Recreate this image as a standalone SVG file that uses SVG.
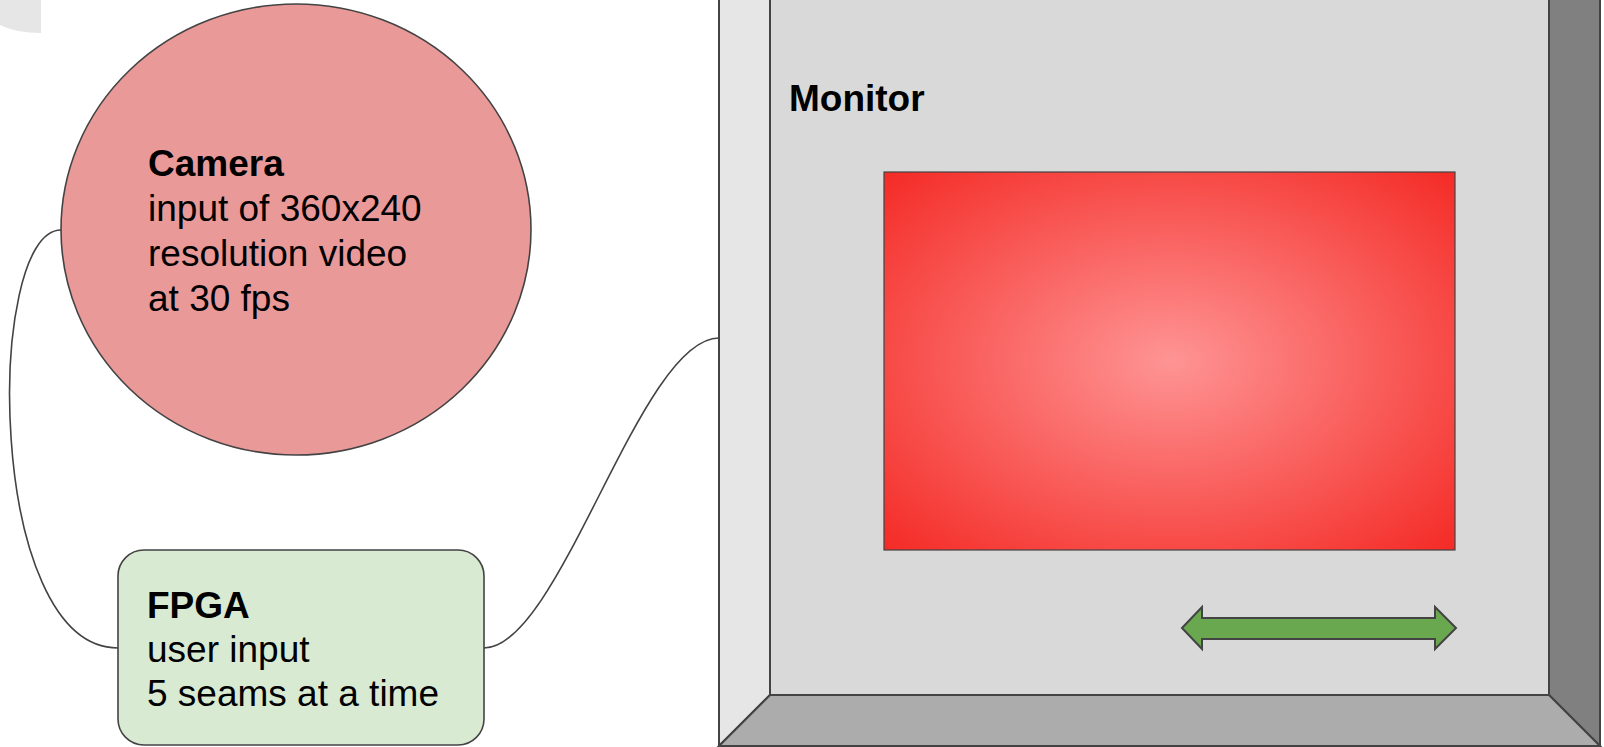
<svg xmlns="http://www.w3.org/2000/svg" width="1604" height="747" viewBox="0 0 1604 747">
  <defs>
    <radialGradient id="screenGlow" cx="0.5" cy="0.5" r="0.71">
      <stop offset="0" stop-color="#fe9494"/>
      <stop offset="1" stop-color="#f42a25"/>
    </radialGradient>
    <style>
      .edge { stroke: #434343; stroke-width: 2; stroke-linejoin: miter; }
      .wire { fill: none; stroke: #434343; stroke-width: 1.6; }
      .label { font-family: "Liberation Sans", Arial, sans-serif; font-size: 37px; fill: #000000; }
      .title { font-weight: bold; }
    </style>
  </defs>

  <rect x="0" y="0" width="1604" height="747" fill="#ffffff"/>

  <!-- partial shape at the top-left corner -->
  <path d="M0,0 L41,0 L41,33 C25,33 10,30 0,25 Z" fill="#e6e6e6"/>

  <!-- connectors -->
  <g id="connectors">
    <path class="wire" d="M61,230 C-15,230 -15,648 118,648"/>
    <path class="wire" d="M484,648 C560,648 640,338 719,338"/>
  </g>

  <!-- monitor: bevelled frame with screen -->
  <g id="monitor">
    <rect x="770" y="-20" width="779" height="715" fill="#d9d9d9" class="edge"/>
    <polygon points="719,-20 770,-20 770,695 719,746" fill="#e6e6e6" class="edge"/>
    <polygon points="1549,-20 1600,-20 1600,746 1549,695" fill="#808080" class="edge"/>
    <polygon points="719,746 770,695 1549,695 1600,746" fill="#acacac" class="edge"/>
    <text class="label title" x="789" y="111">Monitor</text>
    <rect id="screen" x="884" y="172" width="571" height="378" fill="url(#screenGlow)" stroke="#434343" stroke-width="1.2"/>
    <polygon id="slider" points="1182,628 1202,607 1202,618 1435,618 1435,607 1456,628 1435,649 1435,639 1202,639 1202,649" fill="#6aa84f" class="edge"/>
  </g>

  <!-- camera -->
  <g id="camera">
    <ellipse cx="296" cy="229.5" rx="235" ry="225.5" fill="#ea9999" stroke="#434343" stroke-width="1.6"/>
    <text class="label">
      <tspan class="title" x="148" y="176">Camera</tspan>
      <tspan x="148" y="221">input of 360x240</tspan>
      <tspan x="148" y="266">resolution video</tspan>
      <tspan x="148" y="311">at 30 fps</tspan>
    </text>
  </g>

  <!-- FPGA -->
  <g id="fpga">
    <rect x="118" y="550" width="366" height="195" rx="26" ry="26" fill="#d9ead3" stroke="#434343" stroke-width="1.6"/>
    <text class="label">
      <tspan class="title" x="147" y="618">FPGA</tspan>
      <tspan x="147" y="662">user input</tspan>
      <tspan x="147" y="706">5 seams at a time</tspan>
    </text>
  </g>
</svg>
